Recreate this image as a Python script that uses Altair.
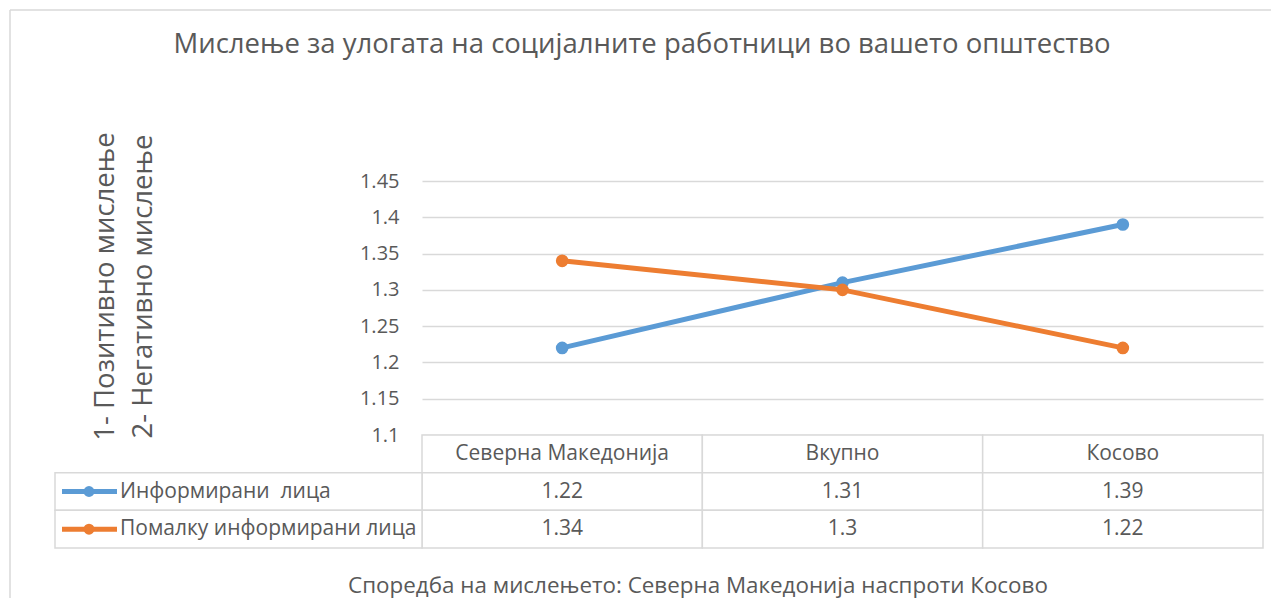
import altair as alt
import pandas as pd

# ---------------- data ----------------
categories = ["Северна Македонија", "Вкупно", "Косово"]
series_names = ["Информирани\u00a0 лица", "Помалку информирани лица"]
informed = [1.22, 1.31, 1.39]
less_informed = [1.34, 1.30, 1.22]
y_ticks = [1.1, 1.15, 1.2, 1.25, 1.3, 1.35, 1.4, 1.45]
series_colors = ["#5B9BD5", "#ED7D31"]
title_text = "Мислење за улогата на социјалните работници во вашето општество"
y_title = ["1- Позитивно мислење", "2- Негативно мислење"]
subtitle_text = "Споредба на мислењето: Северна Македонија наспроти Косово"
header_key = "header"

rows = []
for s, vals in zip(series_names, [informed, less_informed]):
    for c, v in zip(categories, vals):
        rows.append({"category": c, "series": s, "row": s, "value": v})
df = pd.DataFrame(rows)

table_rows = [header_key] + series_names
cells = pd.DataFrame([{"category": c, "row": r} for r in table_rows for c in categories])
header_df = pd.DataFrame({"category": categories, "row": [header_key] * len(categories)})
legend_df = pd.DataFrame({"row": series_names, "series": series_names})

FONT = "Open Sans"
GRAY = "#595959"
GRID = "#d9d9d9"
W, H_TOP, H_TAB = 841, 254, 113

color = alt.Color("series:N", scale=alt.Scale(domain=series_names, range=series_colors), legend=None)

# ---------------- top: line chart ----------------
x_top = alt.X("category:N", sort=categories,
              scale=alt.Scale(type="point", domain=categories, padding=0.5), axis=None)
y_top = alt.Y("value:Q",
              scale=alt.Scale(domain=[1.1, 1.45], nice=False, zero=False),
              axis=alt.Axis(values=y_ticks, format=".2~f", labelFontSize=20, labelColor=GRAY,
                            labelFont=FONT, labelPadding=23, ticks=False, domain=False,
                            grid=True, gridColor=GRID, gridWidth=1.5,
                            title=y_title, titleFont=FONT, titleFontSize=27.5,
                            titleFontWeight="normal", titleColor=GRAY, titleAngle=270,
                            titleX=-317, titleY=105, titleAlign="center",
                            titleBaseline="middle", titleLineHeight=38))

base = alt.Chart(df)
lines = base.mark_line(strokeWidth=5).encode(x=x_top, y=y_top, color=color, detail="series:N")
points = base.mark_point(filled=True, size=160, opacity=1).encode(x=x_top, y=y_top, color=color)

title_mark = alt.Chart(pd.DataFrame({"t": [title_text]})).mark_text(
    font=FONT, fontSize=27.5, color=GRAY, align="center", baseline="middle"
).encode(text="t:N", x=alt.value(220), y=alt.value(-136))

frame_top = alt.Chart(pd.DataFrame({"k": [0]})).mark_rule(color=GRID, strokeWidth=1.5).encode(
    x=alt.value(-412), x2=alt.value(849), y=alt.value(-171))
frame_left = alt.Chart(pd.DataFrame({"k": [0]})).mark_rule(color=GRID, strokeWidth=1.5).encode(
    x=alt.value(-412), y=alt.value(-171), y2=alt.value(417))

top = alt.layer(frame_top, frame_left, title_mark, lines, points).properties(width=W, height=H_TOP)

# ---------------- bottom: data table ----------------
x_tab = alt.X("category:N", sort=categories,
              scale=alt.Scale(type="band", domain=categories, paddingInner=0, paddingOuter=0), axis=None)
y_tab = alt.Y("row:N", sort=table_rows,
              scale=alt.Scale(domain=table_rows, paddingInner=0, paddingOuter=0), axis=None)
y_tab_c = alt.Y("row:N", sort=table_rows, bandPosition=0.5,
                scale=alt.Scale(domain=table_rows, paddingInner=0, paddingOuter=0), axis=None)

cell_rects = alt.Chart(cells).mark_rect(fill="white", stroke=GRID, strokeWidth=1.5).encode(x=x_tab, y=y_tab)
left_rects = alt.Chart(legend_df).mark_rect(fill="white", stroke=GRID, strokeWidth=1.5).encode(
    x=alt.value(-367), x2=alt.value(0), y=y_tab)
header_text = alt.Chart(header_df).mark_text(font=FONT, fontSize=21, color=GRAY).encode(
    x=x_tab, y=y_tab, text="category:N")
value_text = alt.Chart(df).mark_text(font=FONT, fontSize=21, color=GRAY).encode(
    x=x_tab, y=y_tab, text=alt.Text("value:Q", format=".2~f"))
legend_lines = alt.Chart(legend_df).mark_rule(strokeWidth=5).encode(
    x=alt.value(-360), x2=alt.value(-305), y=y_tab_c, color=color)
legend_dots = alt.Chart(legend_df).mark_point(filled=True, size=120, opacity=1).encode(
    x=alt.value(-333), y=y_tab_c, color=color)
legend_text = alt.Chart(legend_df).mark_text(font=FONT, fontSize=21, color=GRAY, align="left").encode(
    x=alt.value(-302), y=y_tab, text="series:N")
subtitle_mark = alt.Chart(pd.DataFrame({"t": [subtitle_text]})).mark_text(
    font=FONT, fontSize=22.4, color=GRAY, align="center", baseline="middle"
).encode(text="t:N", x=alt.value(276), y=alt.value(151))

bottom = alt.layer(cell_rects, left_rects, header_text, value_text, legend_lines, legend_dots,
                   legend_text, subtitle_mark).properties(width=W, height=H_TAB)

chart = alt.vconcat(top, bottom, spacing=0, bounds="flush").resolve_scale(
    x="independent", y="independent"
).configure_view(stroke=None).properties(
    padding={"left": 1, "top": 1, "right": 0, "bottom": 0}, background="white")

chart.save("out.html", embed_options={"renderer": "svg", "actions": False})
